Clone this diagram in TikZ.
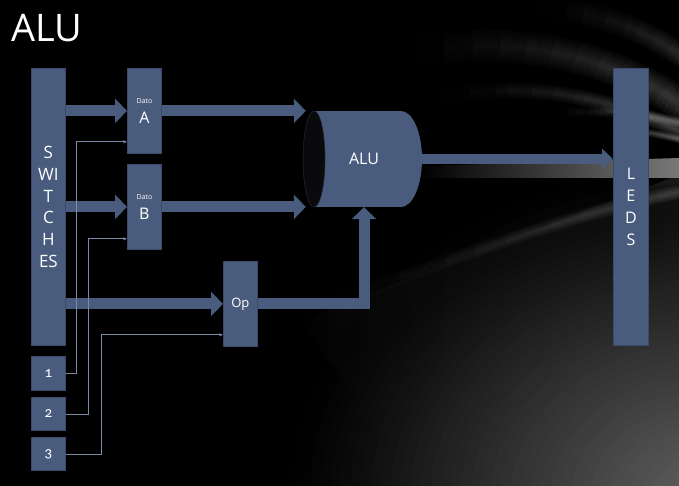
\documentclass[tikz,border=0pt]{standalone}
\usepackage{fontspec}
\setmainfont{Open Sans}
\newfontfamily\osfnum{Carlito}[Numbers=OldStyle]
\usetikzlibrary{arrows.meta,calc}
\definecolor{boxblue}{RGB}{74,92,126}
\definecolor{boxedge}{RGB}{58,74,104}
\definecolor{wire}{RGB}{125,138,165}
\definecolor{canend}{RGB}{10,10,12}
\definecolor{canedge}{RGB}{30,36,50}
\definecolor{glow}{RGB}{96,96,96}
\definecolor{band}{RGB}{60,60,60}
\definecolor{horizon}{RGB}{120,120,120}
% a soft light streak along a curve, fading in from its left end
% #1 start, #2 #3 controls, #4 end, #5 width, #6 peak opacity per layer
\newcommand{\fadestreak}[6]{%
  \path #1 .. controls #2 and #3 .. #4
    \foreach \t in {0,...,24} {coordinate[pos=\t/24] (fs\t)};
  \foreach \t in {0,...,23} {
    \pgfmathtruncatemacro\nx{\t+1}
    \pgfmathsetmacro\op{#6*(\t+1)/24}
    \foreach \k in {1,...,5} {
      \draw[white, opacity=\op, line width={#5*\k/5}] (fs\t) -- (fs\nx);
    }
  }}
\begin{document}
\begin{tikzpicture}[x=1pt,y=-1pt,
  box/.style={fill=boxblue,draw=boxedge,line width=0.8pt,inner sep=0pt,anchor=north west,
    text=white,align=center,font=\fontsize{13}{15}\selectfont},
  bigarrow/.style={draw=boxblue,line width=11pt,line join=miter,
    -{Triangle[width=24pt,length=12pt]}},
  ledarrow/.style={draw=boxblue,line width=10pt,
    -{Triangle[width=20pt,length=11pt]}},
  wirearrow/.style={draw=wire,line width=0.8pt,-{Stealth[length=4pt,width=3pt]}},
]
\useasboundingbox (0,0) rectangle (679,486);
% ---------- background ----------
\begin{scope}
\clip (0,0) rectangle (679,486);
\fill[black] (0,0) rectangle (679,486);
% diagonal band of dim light under the horizon
\shade[left color=black, right color=band]
  (300,320) -- (679,175) -- (679,486) -- (420,486) -- cycle;
% glow in the lower right corner
\foreach \i in {0,...,39} {
  \pgfmathtruncatemacro\p{(\i+1)*2.5}
  \fill[glow!\p!black, fill opacity=0.3]
    (700,500) ellipse [x radius={420-\i*10}, y radius={340-\i*8}];
}
% horizon light just under the ALU -> LEDS arrow
\shade[left color=black, right color=horizon]
  (420,166) -- (679,158) -- (679,178) -- (420,178) -- cycle;
\fadestreak{(320,305)}{(450,262)}{(560,215)}{(690,190)}{14pt}{0.04}
% faint streaks in the upper right
\fadestreak{(400,55)}{(520,30)}{(620,60)}{(690,110)}{32pt}{0.045}
\fadestreak{(440,95)}{(560,80)}{(620,105)}{(690,135)}{16pt}{0.055}
\fadestreak{(530,5)}{(610,12)}{(650,35)}{(690,60)}{24pt}{0.035}
\fadestreak{(560,112)}{(620,110)}{(650,115)}{(690,125)}{10pt}{0.08}
\fadestreak{(610,130)}{(640,130)}{(660,134)}{(690,142)}{8pt}{0.09}
\end{scope}
% ---------- title ----------
\node[anchor=base west, inner sep=0pt, text=white, font=\fontsize{38}{40}\selectfont] (title) at (11,42) {ALU};
% ---------- ALU cylinder ----------
\fill[boxblue] (314,111) rectangle (401,207);
\fill[boxblue] (401,159) ellipse [x radius=21, y radius=48];
\filldraw[fill=canend, draw=canedge, line width=0.6pt] (314,159) ellipse [x radius=11, y radius=48];
\node[inner sep=0pt, minimum width=116pt, minimum height=96pt, text=white,
  font=\fontsize{16}{18}\selectfont] (alu) at (364,159) {ALU};
% ---------- boxes ----------
\node[box, minimum width=34pt, minimum height=277pt, font=\fontsize{17}{21.7}\selectfont] (sw) at (31,68) {S\\WI\\T\\C\\H\\ES};
\node[box, minimum width=34pt, minimum height=34pt, font=\osfnum\fontsize{15}{17}\selectfont] (n1) at (31,356) {1};
\node[box, minimum width=34pt, minimum height=33pt, font=\osfnum\fontsize{15}{17}\selectfont] (n2) at (31,397) {2};
\node[box, minimum width=34pt, minimum height=33pt, font=\osfnum\fontsize{15}{17}\selectfont] (n3) at (31,437) {3};
\node[box, minimum width=34pt, minimum height=85pt] (A) at (127,68) {\fontsize{7}{9}\selectfont Dato\\[5pt]\fontsize{16}{18}\selectfont A};
\node[box, minimum width=34pt, minimum height=85pt] (B) at (127,164) {\fontsize{7}{9}\selectfont Dato\\[5pt]\fontsize{16}{18}\selectfont B};
\node[box, minimum width=34pt, minimum height=85pt, font=\fontsize{13}{15}\selectfont] (op) at (223,261) {Op};
\node[box, minimum width=35pt, minimum height=277pt, font=\fontsize{16}{22}\selectfont] (leds) at (613,68) {L\\E\\D\\S};
% ---------- block arrows ----------
\draw[bigarrow] (sw.east |- A.west) -- (A.west);
\draw[bigarrow] (A.east) -- (A.east -| alu.west);
\draw[bigarrow] (sw.east |- B.west) -- (B.west);
\draw[bigarrow] (B.east) -- (B.east -| alu.west);
\draw[bigarrow] (sw.east |- op.west) -- (op.west);
\draw[bigarrow] (op.east) -| (alu.south);
\draw[ledarrow] (alu.east) -- (alu.east -| leds.west);
% ---------- control wires ----------
\draw[wirearrow] (n1.east) -- ++(11,0) |- ($(A.south west)+(0,-12)$);
\draw[wirearrow] (n2.east) -- ++(23,0) |- ($(B.south west)+(0,-11)$);
\draw[wirearrow] (n3.east) -- ++(36,0) |- ($(op.south west)+(0,-12)$);
\end{tikzpicture}
\end{document}
